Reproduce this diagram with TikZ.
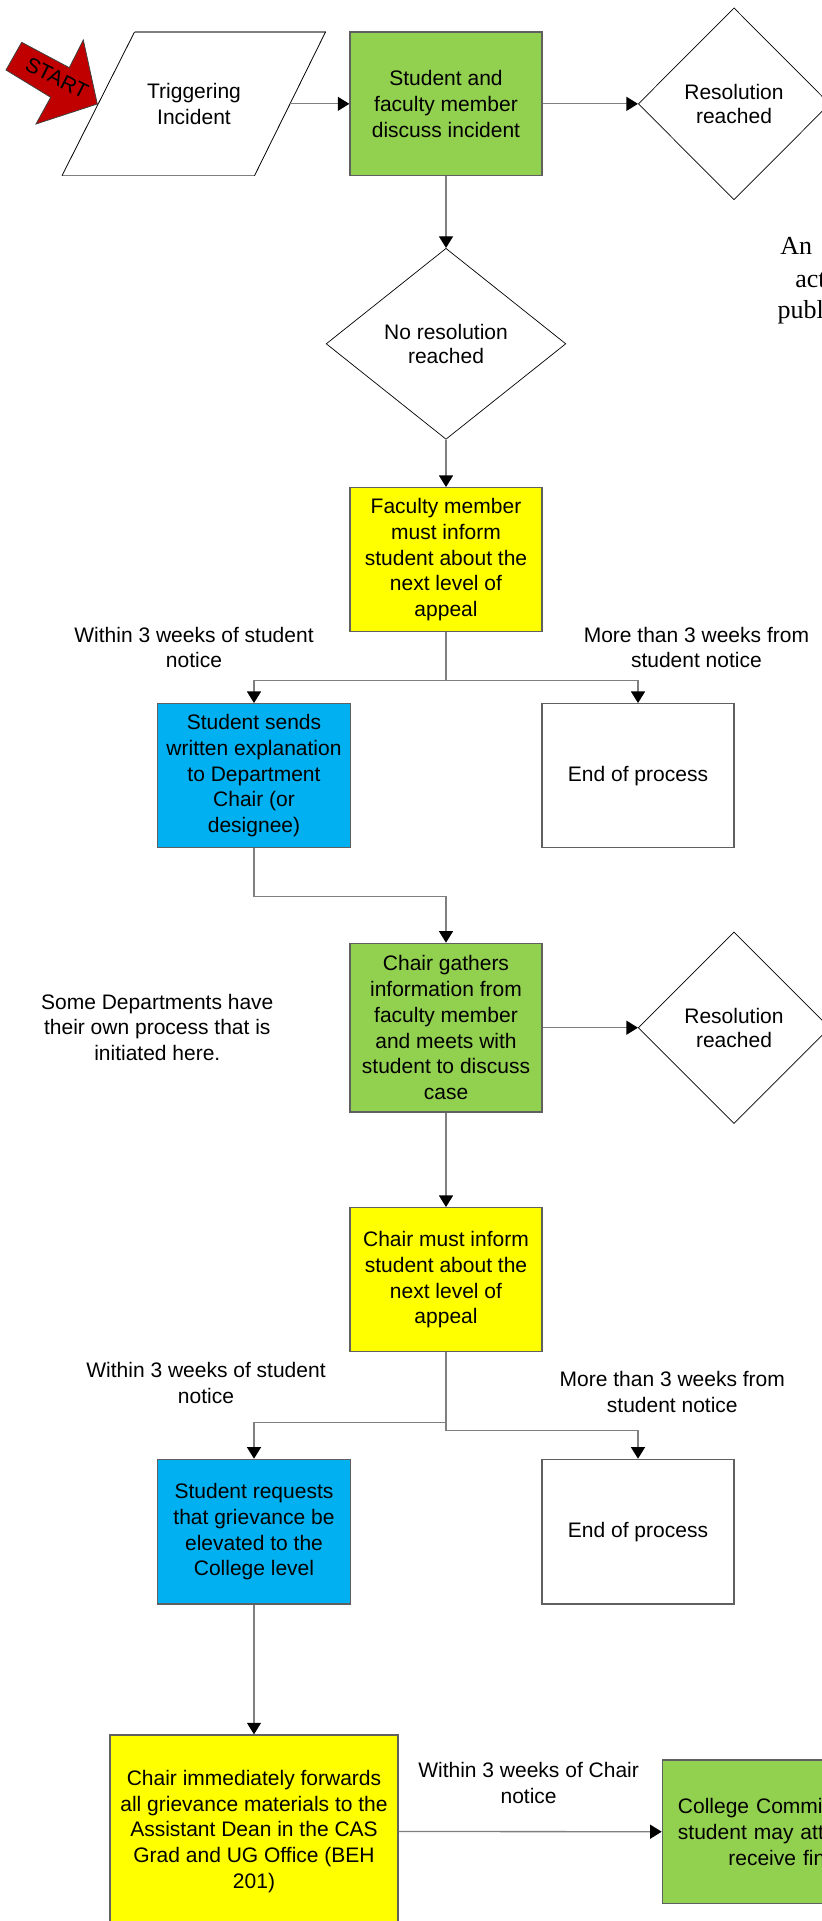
\documentclass[tikz,border=0pt]{standalone}
\usepackage{fontspec}
\setmainfont{Liberation Sans}
\newfontfamily\serifnote{Liberation Serif}
\usetikzlibrary{arrows.meta,shapes.geometric}
\definecolor{cgreen}{HTML}{92D050}
\definecolor{cyellow}{HTML}{FFFF00}
\definecolor{cblue}{HTML}{00B0F0}
\definecolor{cred}{HTML}{C00000}
\definecolor{linegray}{HTML}{7F7F7F}
\definecolor{boxgray}{HTML}{606060}
\begin{document}
\begin{tikzpicture}[x=0.5pt,y=-0.5pt,
  txt/.style={font=\fontsize{10.5pt}{12.9pt}\selectfont, align=center, inner sep=0pt},
  box/.style={txt, draw=boxgray, line width=0.65pt, minimum width=96pt, minimum height=72pt},
  dia/.style={txt, diamond, draw=black, line width=0.35pt, font=\fontsize{10.5pt}{12.2pt}\selectfont},
  conn/.style={draw=linegray, line width=0.65pt},
  arr/.style={conn, -{Triangle[length=5.8pt,width=7pt,color=black]}},
  startbox/.style={fill=cred, draw=black!75, line width=0.4pt},
  notefont/.style={anchor=base west, inner sep=0pt, font=\serifnote\fontsize{13pt}{16pt}\selectfont},
]
\useasboundingbox (0,0) rectangle (822,1921);
\clip (0,0) rectangle (822,1921);
\fill[white] (0,0) rectangle (822,1921);

% START arrow
\filldraw[startbox] (21.7,42.3) -- (69.3,67.7) -- (83.3,40) -- (97.3,104) -- (36,124) -- (50.7,97.3) -- (6,70) -- cycle;
\node[txt, rotate=-27] (start) at (57,78) {START};

% Triggering incident (parallelogram)
\draw[conn] (134.5,32) -- (325.5,32);
\draw[conn] (62,175.7) -- (254.5,175.7);
\draw[black, line width=0.4pt] (134.5,32) -- (62,175.7);
\draw[black, line width=0.4pt] (325.5,32) -- (254.5,175.7);
\node[txt] (trig) at (194,103.85) {Triggering\\Incident};
\coordinate (trigR) at (290,103.85);

% Row 1
\node[box, fill=cgreen, minimum height=71.85pt] (g1) at (446,103.85) {Student and\\faculty member\\discuss incident};
\node[dia, minimum width=95.7pt, minimum height=96pt] (d1) at (734,103.85) {Resolution\\reached};
\node[notefont] (n1) at (780,255) {An};
\node[notefont] (n2) at (795,287.3) {action};
\node[notefont] (n3) at (777.3,318.3) {public};

\node[dia, minimum width=119.85pt, minimum height=95.5pt] (d2) at (446,343.8) {No resolution\\reached};
\node[box, fill=cyellow] (y1) at (446,559.7) {Faculty member\\must inform\\student about the\\next level of\\appeal};

\node[txt] (l1) at (194,647.5) {Within 3 weeks of student\\notice};
\node[txt] (l2) at (696.4,647.5) {More than 3 weeks from\\student notice};

\node[box, fill=cblue, minimum width=96.25pt] (b1) at (254,775.7) {Student sends\\written explanation\\to Department\\Chair (or\\designee)};
\node[box] (e1) at (638,775.7) {End of process};

\node[box, fill=cgreen, minimum height=84.35pt] (g2) at (446,1027.7) {Chair gathers\\information from\\faculty member\\and meets with\\student to discuss\\case};
\node[dia, minimum width=95.7pt, minimum height=95.7pt] (d3) at (734,1027.7) {Resolution\\reached};
\node[txt] (l3) at (157.3,1027.3) {Some Departments have\\their own process that is\\initiated here.};

\node[box, fill=cyellow] (y2) at (446,1279.7) {Chair must inform\\student about the\\next level of\\appeal};
\node[txt] (l4) at (206,1383.2) {Within 3 weeks of student\\notice};
\node[txt] (l5) at (672.3,1391.7) {More than 3 weeks from\\student notice};

\node[box, fill=cblue, minimum width=96.25pt, minimum height=72.35pt] (b2) at (254,1531.7) {Student requests\\that grievance be\\elevated to the\\College level};
\node[box, minimum height=72.35pt] (e2) at (638,1531.7) {End of process};

\node[box, fill=cyellow, minimum width=144pt, minimum height=96.5pt] (y3) at (254,1831.5) {Chair immediately forwards\\all grievance materials to the\\Assistant Dean in the CAS\\Grad and UG Office (BEH\\201)};
\node[txt] (l6) at (528.6,1783.2) {Within 3 weeks of Chair\\notice};
\node[box, fill=cgreen, anchor=west, align=left, text width=160pt, inner xsep=7.8pt, minimum height=71.65pt] (g4) at (661.7,1831.7) {College Committee meets; the\\student may attend and will\\\hspace*{25.2pt}receive final decision};

% connectors
\draw[arr] (trigR) -- (g1.west);
\draw[arr] (g1.east) -- (d1.west);
\draw[arr] (g1.south) -- (d2.north);
\draw[arr] (d2.south) -- (y1.north);
\draw[conn] (y1.south) -- ++(0,48.3) coordinate (j1);
\draw[arr] (j1) -| (b1.north);
\draw[arr] (j1) -| (e1.north);
\draw[arr] (b1.south) -- ++(0,48) -| (g2.north);
\draw[arr] (g2.east) -- (d3.west);
\draw[arr] (g2.south) -- (y2.north);
\draw[arr] (y2.south) -- ++(0,70) -| (b2.north);
\draw[arr] (y2.south) -- ++(0,78.3) -| (e2.north);
\draw[arr] (b2.south) -- (y3.north);
\draw[arr] (y3.east) -- (g4.west);
\end{tikzpicture}
\end{document}
